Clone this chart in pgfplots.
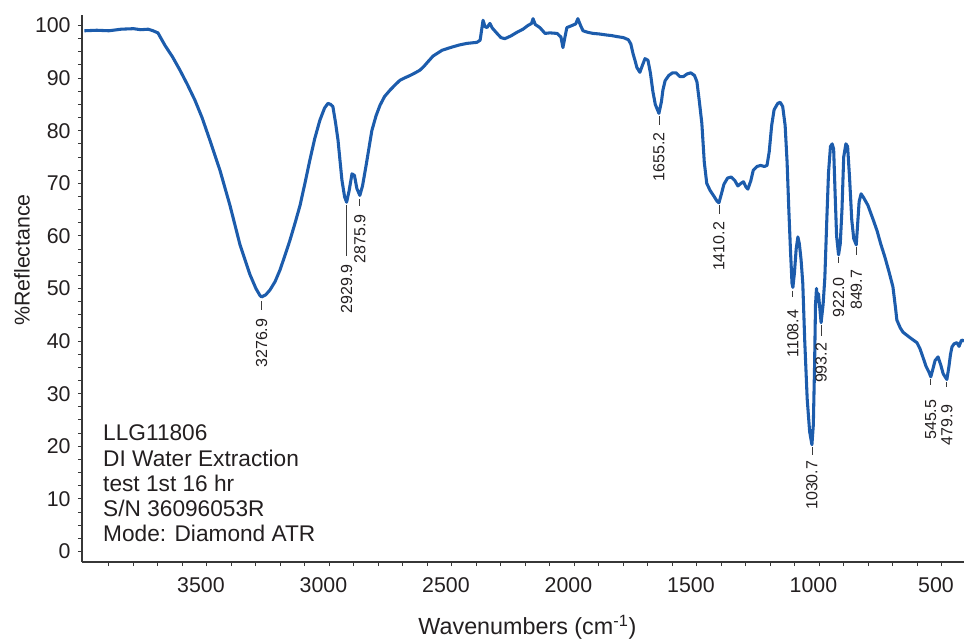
\documentclass[border=0pt]{standalone}
\usepackage{fontspec}
\setmainfont{Liberation Sans}
\usepackage{pgfplots}
\pgfplotsset{compat=1.18}
\definecolor{spec}{RGB}{28,92,172}
\definecolor{axcol}{RGB}{55,55,55}
\definecolor{txtcol}{RGB}{35,31,32}
\definecolor{lblcol}{RGB}{60,60,60}
\newcommand{\peak}[4]{%
  \addplot[draw=lblcol, line width=0.6pt, forget plot] coordinates {(#1,#2) (#1,#3)};
  \node[rotate=90, anchor=east, inner sep=0pt, font=\fontsize{12}{12}\selectfont, text=txtcol] at (axis cs:#1,#4) {#1};
}
\begin{document}
\begin{tikzpicture}
\begin{axis}[
  at={(0,0)}, anchor=south west,
  scale only axis, width=661.5pt, height=410.25pt,
  xmin=410, xmax=4010, ymin=-2, ymax=102,
  x dir=reverse,
  axis x line*=bottom, axis y line*=left,
  axis line style={line width=0.9pt, color=axcol},
  tick align=outside,
  xtick={500,1000,...,3500},
  minor xtick={500,600,...,3900},
  ytick={0,10,...,100},
  minor y tick num=3,
  major tick length=3pt, minor tick length=3pt,
  tick style={line width=0.75pt, color=axcol},
  /pgf/number format/assume math mode=true,
  /pgf/number format/1000 sep={},
  every tick label/.append style={font=\fontsize{16}{16}\selectfont, text=txtcol},
  xticklabel style={yshift=-5pt, xshift=-4.5pt},
  yticklabel style={xshift=-2pt},
  xlabel={Wavenumbers (cm\textsuperscript{-1})},
  ylabel={\%Reflectance},
  xlabel style={font=\fontsize{17.5}{17.5}\selectfont, text=txtcol, at={(axis description cs:0.505,0)}, anchor=base, yshift=-54.5pt},
  ylabel style={font=\fontsize{16}{16}\selectfont, text=txtcol, at={(axis description cs:-0.068,0.552)}, anchor=center, rotate=0},
  clip=true,
]
\addplot[color=spec, line width=2.3pt, line join=round] coordinates {
(4000,99.0) (3950,99.1) (3900,99.0) (3850,99.3) (3800,99.4) (3770,99.2) (3740,99.3) (3720,99.0)
(3700,98.6) (3671,96.2) (3640,94.0) (3610,91.5) (3580,88.8) (3549,85.8) (3520,82.5) (3488,78.2)
(3447,72.5) (3406,65.8) (3365,58.3) (3324,52.6) (3300,50.0) (3284,48.7) (3276.9,48.4)
(3260,48.8) (3243,49.7) (3222,51.3) (3202,53.5) (3180,56.5) (3161,59.2) (3140,62.5) (3120,65.8)
(3100,70.0) (3080,74.4) (3060,78.5) (3039,82.0) (3020,84.3) (3006,85.2) (2995,85.0) (2986,84.6)
(2975,81.5) (2965,78.2) (2949,70.6) (2938,67.4) (2929.9,66.4) (2920,68.5) (2908,71.8) (2898,71.5)
(2888,69.0) (2875.9,67.7) (2865,69.5) (2850,73.5) (2827,80.0) (2810,82.8) (2794,84.8) (2775,86.5)
(2753,87.7) (2730,88.8) (2712,89.6) (2690,90.1) (2671,90.5) (2650,91.0) (2631,91.5) (2615,92.2)
(2600,93.0) (2577,94.2) (2540,95.3) (2500,95.9) (2470,96.3) (2439,96.6) (2398,96.8) (2385,97.2)
(2373,101.0) (2365,99.8) (2357,99.6) (2345,100.4) (2335,99.5) (2316,98.5) (2300,97.7) (2284,97.5)
(2260,98.0) (2235,98.7) (2210,99.3) (2190,100.0) (2175,100.4) (2169,101.3) (2160,100.2) (2141,99.6)
(2120,98.5) (2100,98.6) (2071,98.5) (2055,97.8) (2047,95.8) (2040,97.5) (2031,99.6) (2010,100.0)
(1995,100.3) (1986,101.3) (1975,100.0) (1965,99.0) (1945,98.7) (1924,98.5) (1900,98.4) (1870,98.2)
(1850,98.1) (1827,97.9) (1800,97.7) (1780,97.3) (1770,96.5) (1760,94.5) (1753,93.4) (1745,92.0)
(1733,91.1) (1722,92.5) (1712,93.7) (1700,93.4) (1690,91.0) (1680,87.5) (1670,85.0) (1655.2,83.3)
(1645,85.5) (1639,87.7) (1630,89.5) (1615,90.5) (1600,91.0) (1585,91.0) (1570,90.3) (1555,90.3)
(1540,90.8) (1525,91.0) (1510,90.5) (1500,89.3) (1490,85.5) (1480,81.4) (1470,74.0) (1460,70.0)
(1447,68.7) (1430,67.5) (1418,66.6) (1410.2,66.3) (1400,68.0) (1390,69.8) (1375,71.0) (1360,71.2)
(1345,70.5) (1333,69.5) (1320,70.0) (1310,70.3) (1300,69.3) (1292,68.9) (1280,70.5) (1270,72.5)
(1255,73.2) (1240,73.4) (1225,73.2) (1214,73.4) (1205,76.0) (1195,81.0) (1185,84.0) (1170,85.2)
(1160,85.4) (1150,84.6) (1140,81.0) (1132,74.0) (1125,65.0) (1118,57.0) (1112,51.0) (1108.4,50.2)
(1102,53.0) (1095,57.5) (1088,59.8) (1082,58.5) (1075,55.5) (1068,51.0) (1060,40.0) (1050,29.0)
(1040,22.8) (1030.7,20.3) (1025,24.0) (1020,35.0) (1016,47.0) (1012,50.0) (1008,47.5) (1004,49.0)
(998,46.0) (993.2,43.5) (985,47.0) (978,52.0) (970,63.0) (963,72.0) (955,77.0) (948,77.5)
(942,76.5) (936,68.0) (930,60.0) (922.0,56.4) (915,58.5) (908,65.0) (901,75.0) (892,77.5)
(885,77.0) (877,71.0) (868,63.0) (860,59.5) (849.7,58.3) (843,63.0) (838,66.5) (830,68.0)
(820,67.3) (802,65.8) (780,63.0) (765,61.0) (750,58.5) (733,56.0) (715,53.0) (700,50.3)
(690,46.5) (684,44.0) (670,42.5) (659,41.7) (640,41.0) (620,40.3) (602,39.7) (590,38.6)
(578,37.0) (565,35.2) (552,34.0) (545.5,33.2) (538,34.5) (528,36.3) (516,37.0) (505,35.5)
(495,33.8) (487,33.2) (479.9,32.7) (472,35.0) (465,37.5) (459,38.9) (450,39.5) (439,39.7)
(430,39.0) (422,40.0) (418,40.2) (410,40.0)
};
\peak{3276.9}{47.6}{45.9}{44.3}
\peak{2929.9}{65.8}{56.1}{54.6}
\peak{2875.9}{67.0}{65.6}{64.1}
\peak{1655.2}{82.8}{81.1}{79.7}
\peak{1410.2}{65.8}{64.1}{62.7}
\peak{1108.4}{49.6}{48.3}{46.0}
\peak{1030.7}{19.8}{18.3}{17.3}
\peak{993.2}{43.0}{40.9}{39.7}
\peak{922.0}{55.9}{54.9}{52.2}
\peak{849.7}{57.8}{56.4}{53.6}
\peak{545.5}{32.7}{31.7}{28.9}
\peak{479.9}{32.2}{31.2}{27.9}
\begin{scope}[every node/.style={anchor=base west, inner sep=0pt, font=\fontsize{17}{17}\selectfont, text=txtcol}]
\node at (axis description cs:0.0238,0.2230) {LLG11806};
\node at (axis description cs:0.0238,0.1737) {DI Water Extraction};
\node at (axis description cs:0.0238,0.1280) {test 1st 16 hr};
\node at (axis description cs:0.0238,0.0823) {S/N 36096053R};
\node at (axis description cs:0.0238,0.0366) {Mode: Diamond ATR};
\end{scope}
\end{axis}
\pgfresetboundingbox
\path[use as bounding box] (-61.5pt,-60.75pt) rectangle (661.5pt,421.5pt);
\end{tikzpicture}
\end{document}
